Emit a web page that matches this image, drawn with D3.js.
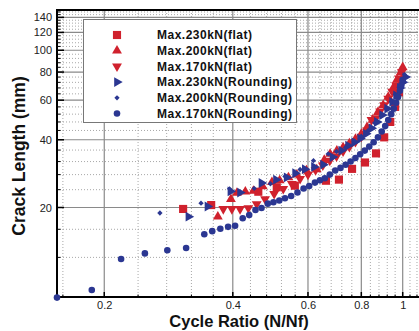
<!DOCTYPE html>
<html><head><meta charset="utf-8">
<script src="https://cdn.jsdelivr.net/npm/d3@7"></script>
<style>body{margin:0;background:#fff;overflow:hidden} svg{display:block}</style>
</head><body>
<svg id="c" width="419" height="331"></svg>
<script>
// ---- data ----
const xMajorTicks = [0.2, 0.4, 0.6, 0.8, 1];
const xTickLabels = ["0.2", "0.4", "0.6", "0.8", "1"];
const yMajorTicks = [20, 40, 60, 80, 100, 120, 140];
const yTickLabels = ["20", "40", "60", "80", "100", "120", "140"];
const seriesNames = ["Max.230kN(flat)", "Max.200kN(flat)", "Max.170kN(flat)",
  "Max.230kN(Rounding)", "Max.200kN(Rounding)", "Max.170kN(Rounding)"];

const flat230 = [[0.306,19.7],[0.356,20.5],[0.459,23.5],[0.507,24.6],[0.559,25.0],[0.661,26.3],
  [0.709,26.6],[0.761,29.7],[0.816,31.7],[0.866,34.8],[0.905,41],[0.935,48],[0.96,56],[0.98,65],[0.995,74]];
const flat200 = [[0.369,18.2],[0.396,21.8],[0.409,23.2],[0.428,23.5],[0.447,23.7],[0.47,24.8],[0.494,25.9],
  [0.515,26.4],[0.54,27.2],[0.565,28.0],[0.595,29.2],[0.629,29.5],[0.655,32.5],[0.676,34.6],[0.701,35.8],
  [0.725,37.0],[0.75,38.5],[0.775,40.3],[0.80,42.5],[0.825,45.5],[0.85,49],[0.875,53],[0.90,57],[0.925,62],
  [0.95,68],[0.97,74],[0.99,80],[1.0,84]];
const flat170 = [[0.380,19.7],[0.398,19.7],[0.416,19.7],[0.435,19.9],[0.455,20.7],[0.476,21.8],[0.50,23.0],
  [0.525,24.2],[0.55,25.5],[0.575,26.8],[0.60,28.0],[0.625,29.3],[0.65,30.8],[0.675,32.3],[0.70,33.8],
  [0.725,35.5],[0.75,37.2],[0.775,39.2],[0.80,41.3],[0.825,44],[0.845,49],[0.865,50],[0.885,53.5],
  [0.905,57],[0.925,61],[0.945,65.5],[0.965,70],[0.98,75],[0.995,80]];
const round230 = [[0.315,18.2],[0.349,20.2],[0.395,23.6],[0.416,23.3],[0.467,25.7],[0.505,26.6],[0.535,27.2],
  [0.56,28.4],[0.59,29.6],[0.62,30.3],[0.651,31.0],[0.685,33.5],[0.718,35.8],[0.745,37.7],[0.77,39],
  [0.795,40.5],[0.82,42.5],[0.845,45],[0.87,48],[0.895,51.5],[0.92,55],[0.945,59],[0.965,63],[0.985,68],
  [1.0,72],[1.015,76]];
const round200 = [[0.270,18.9],[0.337,20.9],[0.393,24.2],[0.449,24.3],[0.49,25.5],[0.53,27.5],[0.575,29.5],
  [0.618,32.3],[0.669,34.6],[0.70,35.5],[0.735,37],[0.77,39.5],[0.80,41.5],[0.83,44],[0.86,47.5],[0.89,51],
  [0.915,55],[0.94,59],[0.96,63.5],[0.98,68.5],[0.995,73],[1.01,78]];
const round170 = [[0.155,7.95],[0.187,8.6],[0.219,11.8],[0.249,12.5],[0.281,12.9],[0.311,13.2],[0.343,15.2],
  [0.358,15.7],[0.374,16.1],[0.390,16.4],[0.405,16.6],[0.422,17.9],[0.437,18.5],[0.452,19.5],[0.467,19.9],
  [0.483,20.8],[0.498,21.1],[0.514,21.5],[0.530,22.0],[0.548,22.5],[0.567,23.3],[0.586,24.3],[0.604,24.9],
  [0.623,25.8],[0.640,26.4],[0.657,27.0],[0.675,28.0],[0.695,29.2],[0.715,30.0],[0.735,31.0],[0.755,32.0],
  [0.775,33.2],[0.795,34.5],[0.815,35.8],[0.835,37.3],[0.855,39.0],[0.875,41.0],[0.893,43.5],[0.91,46],
  [0.925,49],[0.94,52],[0.953,55],[0.965,58.5],[0.975,62],[0.985,66],[0.993,70],[1.0,74]];

// ---- layout ----
const L = 57, R = 418, T = 10, B = 297;
const RED = "#d0212d", BLUE = "#2b3792";
const FONT = "Liberation Sans, Arial, sans-serif";
const svg = d3.select("#c");
const x = d3.scaleLog().domain([0.155, 1.086]).range([L, R]);
const y = d3.scaleLog().domain([8, 151]).range([B, T]);

const xMinor = d3.range(4, 28).map(k => +(k * 0.04).toFixed(2)).filter(v => v >= 0.155 && v <= 1.086 && !xMajorTicks.some(m => Math.abs(m - v) < 1e-6));
const yMinor = d3.range(3, 38).map(k => k * 4).filter(v => v <= 151 && !yMajorTicks.includes(v));

const grid = svg.append("g");
grid.selectAll(".vx").data(xMinor).join("line")
  .attr("x1", d => x(d)).attr("x2", d => x(d)).attr("y1", T).attr("y2", B)
  .attr("stroke", "#a8a8a8").attr("stroke-dasharray", "1,2").attr("stroke-width", 1);
grid.selectAll(".hy").data(yMinor).join("line")
  .attr("y1", d => y(d)).attr("y2", d => y(d)).attr("x1", L).attr("x2", R)
  .attr("stroke", "#a8a8a8").attr("stroke-dasharray", "1,2").attr("stroke-width", 1);
grid.selectAll(".VX").data(xMajorTicks).join("line")
  .attr("x1", d => x(d)).attr("x2", d => x(d)).attr("y1", T).attr("y2", B)
  .attr("stroke", "#8a8a8a").attr("stroke-width", 1.2);
grid.selectAll(".HY").data(yMajorTicks).join("line")
  .attr("y1", d => y(d)).attr("y2", d => y(d)).attr("x1", L).attr("x2", R)
  .attr("stroke", "#8a8a8a").attr("stroke-width", 1.2);

// axes
const xAxis = d3.axisBottom(x).tickValues(xMajorTicks).tickFormat((d, i) => xTickLabels[i]).tickSize(0).tickPadding(4);
const gx = svg.append("g").attr("transform", `translate(0,${B})`).call(xAxis);
gx.select(".domain").remove();
gx.selectAll("text").attr("font-family", FONT).attr("font-size", 11).attr("fill", "#222");
const yAxis = d3.axisLeft(y).tickValues(yMajorTicks).tickFormat((d, i) => yTickLabels[i]).tickSize(0).tickPadding(5);
const gy = svg.append("g").attr("transform", `translate(${L},0)`).call(yAxis);
gy.select(".domain").remove();
gy.selectAll("text").attr("font-family", FONT).attr("font-size", 11).attr("fill", "#222");

// inward tick marks
const tk = svg.append("g").attr("stroke", "#000");
tk.selectAll(".a").data(xMajorTicks).join("line").attr("x1", d => x(d)).attr("x2", d => x(d)).attr("y1", B).attr("y2", B - 5).attr("stroke-width", 1.5);
tk.selectAll(".b").data(xMinor).join("line").attr("x1", d => x(d)).attr("x2", d => x(d)).attr("y1", B).attr("y2", B - 2.5);
tk.selectAll(".c").data(yMajorTicks).join("line").attr("y1", d => y(d)).attr("y2", d => y(d)).attr("x1", L).attr("x2", L + 7).attr("stroke-width", 1.5);
tk.selectAll(".d").data(yMinor).join("line").attr("y1", d => y(d)).attr("y2", d => y(d)).attr("x1", L).attr("x2", L + 3.5);

// frame
svg.append("line").attr("x1", L).attr("x2", R + 2).attr("y1", T).attr("y2", T).attr("stroke", "#000").attr("stroke-width", 2);
svg.append("line").attr("x1", L).attr("x2", R + 2).attr("y1", B).attr("y2", B).attr("stroke", "#000").attr("stroke-width", 2);
svg.append("line").attr("x1", L).attr("x2", L).attr("y1", T - 1).attr("y2", B + 1).attr("stroke", "#000").attr("stroke-width", 2);

// titles
svg.append("text").attr("x", 239).attr("y", 327).attr("text-anchor", "middle")
  .attr("font-family", FONT).attr("font-weight", "bold").attr("font-size", 16.5)
  .attr("fill", "#111").text("Cycle Ratio (N/Nf)");
svg.append("text").attr("transform", "translate(25,156) rotate(-90)").attr("text-anchor", "middle")
  .attr("font-family", FONT).attr("font-weight", "bold").attr("font-size", 17.5)
  .attr("fill", "#111").text("Crack Length (mm)");

// symbols
const sym = [
  {t: d3.symbolSquare, s: 66, r: 0, c: RED},
  {t: d3.symbolTriangle, s: 42, r: 0, c: RED},
  {t: d3.symbolTriangle, s: 42, r: 180, c: RED},
  {t: d3.symbolTriangle, s: 42, r: 90, c: BLUE},
  {t: d3.symbolSquare, s: 14, r: 45, c: BLUE},
  {t: d3.symbolCircle, s: 34, r: 0, c: BLUE}
];
const allSeries = [flat230, flat200, flat170, round230, round200, round170];

// legend box
const lg = svg.append("g");
lg.append("rect").attr("x", 83.5).attr("y", 19.5).attr("width", 213).attr("height", 103)
  .attr("fill", "#fff").attr("stroke", "#777").attr("stroke-width", 1);
seriesNames.forEach((n, i) => {
  const cy = 35 + i * 15.7;
  lg.append("path").attr("d", d3.symbol(sym[i].t, sym[i].s)())
    .attr("transform", `translate(117,${cy}) rotate(${sym[i].r})`).attr("fill", sym[i].c);
  lg.append("text").attr("x", 157).attr("y", cy + 4.3)
    .attr("font-family", FONT).attr("font-weight", "bold").attr("font-size", 12)
    .attr("letter-spacing", 0.5).attr("fill", "#111").text(n);
});

// points
allSeries.forEach((data, i) => {
  svg.append("g").selectAll("path").data(data).join("path")
    .attr("d", d3.symbol(sym[i].t, sym[i].s)())
    .attr("transform", d => `translate(${x(d[0])},${y(d[1])}) rotate(${sym[i].r})`)
    .attr("fill", sym[i].c);
});
</script>
</body></html>
